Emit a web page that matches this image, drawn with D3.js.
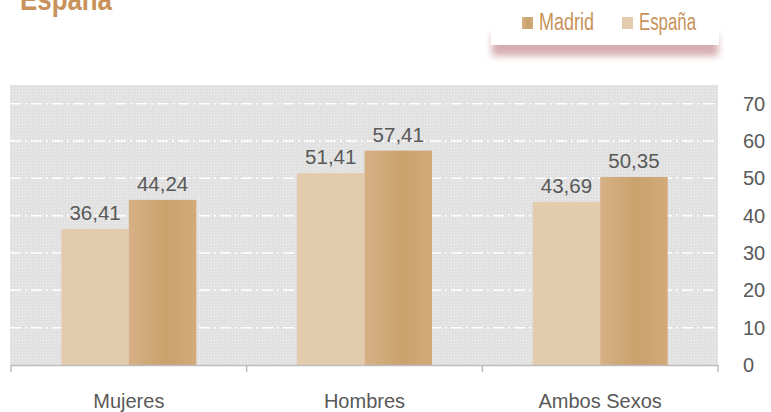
<!DOCTYPE html>
<html><head><meta charset="utf-8">
<script src="https://cdn.jsdelivr.net/npm/d3@7"></script>
<style>
html,body{margin:0;padding:0;background:#fff;}
svg{display:block;}
</style></head>
<body>
<svg id="c" width="771" height="412"></svg>
<script>
const categories = ["Mujeres", "Hombres", "Ambos Sexos"];
const series = ["España", "Madrid"];
const espana = [36.41, 51.41, 43.69];
const madrid = [44.24, 57.41, 50.35];
const yTicks = [0, 10, 20, 30, 40, 50, 60, 70];
const legendOrder = ["Madrid", "España"];
const titleText = "España";

const svg = d3.select("#c");
const defs = svg.append("defs");

const pat = defs.append("pattern").attr("id","dots").attr("width",3).attr("height",3).attr("patternUnits","userSpaceOnUse");
pat.append("rect").attr("width",3).attr("height",3).attr("fill","#e0e0e0");
pat.append("rect").attr("x",1).attr("y",1).attr("width",1).attr("height",1).attr("fill","#f0f0f0");
pat.append("rect").attr("x",0).attr("y",0).attr("width",1).attr("height",1).attr("fill","#e8e8e8");

const g1 = defs.append("linearGradient").attr("id","gMad").attr("x1","0").attr("x2","1").attr("y1","0").attr("y2","0");
g1.append("stop").attr("offset","0").attr("stop-color","#d7b086");
g1.append("stop").attr("offset","0.55").attr("stop-color","#c9a26d");
g1.append("stop").attr("offset","1").attr("stop-color","#d3a97a");

const blur = defs.append("filter").attr("id","blur").attr("x","-20%").attr("y","-50%").attr("width","140%").attr("height","200%");
blur.append("feGaussianBlur").attr("stdDeviation",3.5);

const colors = {"España":"#e3cbad","Madrid":"url(#gMad)"};
const swatch = {"España":"#e3cbad","Madrid":"url(#gMad)"};

const pLeft = 10, pRight = 718, pTop = 85, pBottom = 365;

const y = d3.scaleLinear().domain([0, 75]).range([pBottom, pTop]);
const x0 = d3.scaleBand().domain(categories).range([11, 718]).padding(0);
const x1 = d3.scaleBand().domain(series).range([0, x0.bandwidth()]).paddingInner(0).paddingOuter(0.745);

// background
svg.append("rect").attr("x",pLeft).attr("y",pTop).attr("width",pRight-pLeft).attr("height",pBottom-pTop).attr("fill","url(#dots)");

// gridlines
svg.append("g").selectAll("line").data(yTicks.filter(d=>d>0)).join("line")
  .attr("x1",pLeft).attr("x2",pRight).attr("y1",d=>y(d)).attr("y2",d=>y(d))
  .attr("stroke","#ffffff").attr("stroke-width",1.5).attr("stroke-dasharray","11,4,2,4");

// bars
const data = categories.map((c,i)=>({cat:c, vals:[{s:"España",v:espana[i]},{s:"Madrid",v:madrid[i]}]}));
const grp = svg.append("g").selectAll("g").data(data).join("g").attr("transform",d=>`translate(${x0(d.cat)},0)`);
grp.selectAll("rect").data(d=>d.vals).join("rect")
  .attr("x",d=>x1(d.s)).attr("width",x1.bandwidth())
  .attr("y",d=>y(d.v)).attr("height",d=>y(0)-y(d.v))
  .attr("fill",d=>colors[d.s]);
grp.selectAll("text").data(d=>d.vals).join("text")
  .attr("x",d=>x1(d.s)+x1.bandwidth()/2).attr("y",d=>y(d.v)-9)
  .attr("text-anchor","middle").attr("font-family","Liberation Sans, Arial, sans-serif")
  .attr("font-size",20.5).attr("fill","#595959")
  .text(d=>d.v.toFixed(2).replace(".",","));

// x axis
const xa = svg.append("g");
xa.append("line").attr("x1",11).attr("x2",718).attr("y1",pBottom+0.5).attr("y2",pBottom+0.5).attr("stroke","#bcbcbc").attr("stroke-width",1.5);
const tickPos = categories.map(c=>x0(c)).concat([x0(categories[categories.length-1])+x0.bandwidth()]);
xa.selectAll("line.t").data(tickPos).join("line").attr("class","t")
  .attr("x1",d=>d).attr("x2",d=>d).attr("y1",pBottom).attr("y2",pBottom+7).attr("stroke","#bcbcbc").attr("stroke-width",1.5);
xa.selectAll("text").data(categories).join("text")
  .attr("x",d=>x0(d)+x0.bandwidth()/2).attr("y",408)
  .attr("text-anchor","middle").attr("font-family","Liberation Sans, Arial, sans-serif")
  .attr("font-size",20).attr("fill","#595959").text(d=>d);

// y axis labels
svg.append("g").selectAll("text").data(yTicks).join("text")
  .attr("x",743).attr("y",d=>y(d)+7)
  .attr("font-family","Liberation Sans, Arial, sans-serif")
  .attr("font-size",20).attr("fill","#595959").text(d=>d);

// title
svg.append("text").attr("x",20).attr("y",10).attr("font-family","Liberation Sans, Arial, sans-serif")
  .attr("font-weight","bold").attr("font-size",32).attr("fill","#c8925a")
  .attr("textLength",92).attr("lengthAdjust","spacingAndGlyphs").text(titleText);

// legend
const lg = svg.append("g");
lg.append("rect").attr("x",492).attr("y",34).attr("width",226).attr("height",22).attr("fill","#cf9fa2").attr("opacity",0.85).attr("filter","url(#blur)");
lg.append("rect").attr("x",491).attr("y",-5).attr("width",228).attr("height",50).attr("fill","#ffffff");
const lx = [522, 622];
const lw = [55, 57];
const li = lg.selectAll("g").data(legendOrder).join("g").attr("transform",(d,i)=>`translate(${lx[i]},0)`);
li.append("rect").attr("x",0).attr("y",17).attr("width",11).attr("height",12).attr("fill",d=>swatch[d]);
li.append("text").attr("x",17).attr("y",30).attr("font-family","Liberation Sans, Arial, sans-serif")
  .attr("font-size",23).attr("fill","#c8925a")
  .attr("textLength",(d,i)=>lw[i]).attr("lengthAdjust","spacingAndGlyphs").text(d=>d);
</script>
</body></html>
